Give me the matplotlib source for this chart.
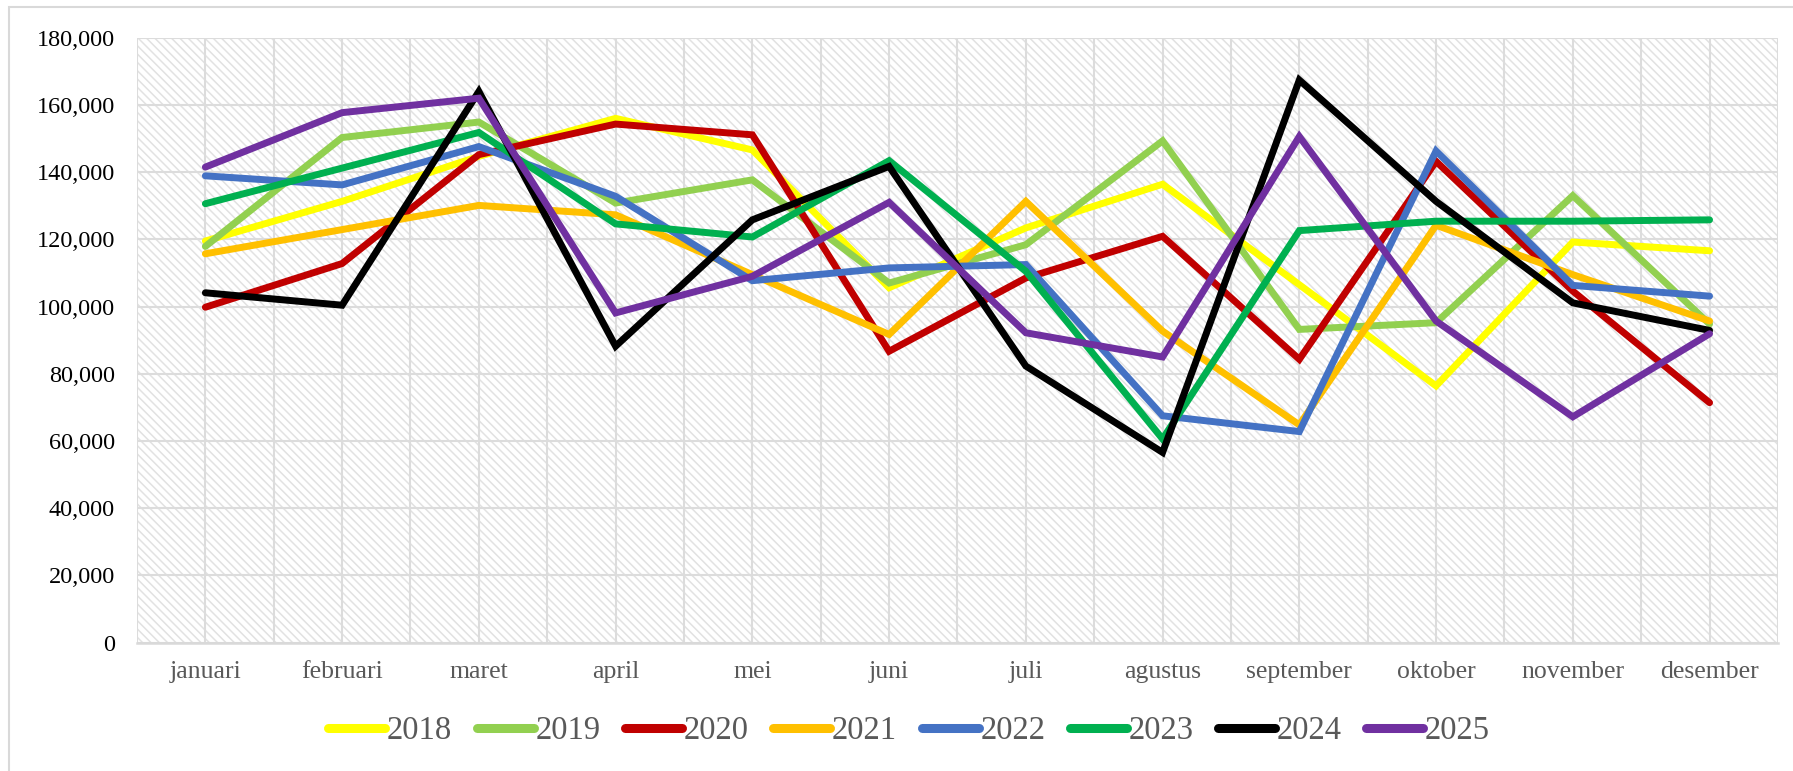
import matplotlib
matplotlib.use("Agg")
from matplotlib import pyplot as plt
from matplotlib.patches import Rectangle
from matplotlib.ticker import FuncFormatter

MONTHS = ["januari", "februari", "maret", "april", "mei", "juni",
          "juli", "agustus", "september", "oktober", "november", "desember"]
YEARS = ["2018", "2019", "2020", "2021", "2022", "2023", "2024", "2025"]
COLORS = ["#ffff00", "#92d050", "#c00000", "#ffc000",
          "#4472c4", "#00b050", "#000000", "#7030a0"]

Y2018 = [119500, 131300, 144700, 156000, 146600, 105600, 123400, 136400, 106500, 76400, 119200, 116600]
Y2019 = [117900, 150300, 154900, 130800, 137700, 107000, 118400, 149300, 93200, 95200, 133000, 94800]
Y2020 = [99800, 112800, 145200, 154300, 151100, 86700, 108500, 120900, 84300, 143200, 104600, 71400]
Y2021 = [115700, 122900, 130100, 127300, 109500, 91700, 131300, 92700, 64800, 124200, 109500, 95700]
Y2022 = [138900, 136200, 147600, 132800, 107700, 111500, 112500, 67500, 62800, 146300, 106300, 103100]
Y2023 = [130600, 141200, 151800, 124600, 120700, 143400, 110500, 60600, 122600, 125400, 125400, 125800]
Y2024 = [104100, 100400, 164000, 88200, 125800, 141700, 82300, 56600, 167400, 131300, 101100, 92900]
Y2025 = [141500, 157700, 162000, 98100, 109000, 131000, 92200, 85000, 150600, 95700, 67200, 91900]
SERIES = [Y2018, Y2019, Y2020, Y2021, Y2022, Y2023, Y2024, Y2025]

plt.rcParams["font.family"] = ["Liberation Serif", "DejaVu Serif"]
plt.rcParams["hatch.linewidth"] = 1.1

fig = plt.figure(figsize=(17.93, 7.71), dpi=100)
ax = fig.add_axes([0.0764, 0.1665, 0.9152, 0.7846])

# hatched plot background
bg = Rectangle((0, 0), 1, 1, transform=ax.transAxes, facecolor="white",
               edgecolor="#e2e2e2", hatch="\\\\\\\\", linewidth=0, zorder=0.1)
ax.add_patch(bg)
ax.patch.set_visible(False)

x = list(range(len(MONTHS)))
for name, vals, col in zip(YEARS, SERIES, COLORS):
    ax.plot(x, vals, color=col, lw=5, label=name,
            solid_capstyle="round", solid_joinstyle="miter", zorder=3)

ax.set_xlim(-0.5, 11.5)
ax.set_ylim(0, 180000)
ax.set_yticks(range(0, 180001, 20000))
ax.yaxis.set_major_formatter(FuncFormatter(lambda v, p: f"{int(v):,}"))
ax.set_xticks(x)
ax.set_xticklabels(MONTHS)
ax.set_xticks([i - 0.5 for i in range(13)], minor=True)

ax.set_axisbelow(True)
ax.grid(True, which="major", color="#dcdcdc", lw=1.5, zorder=0.5)
ax.grid(True, which="minor", axis="x", color="#dcdcdc", lw=1.5, zorder=0.5)

for s in ["top", "right", "left"]:
    ax.spines[s].set_visible(False)
ax.spines["bottom"].set_color("#d9d9d9")
ax.spines["bottom"].set_linewidth(1.8)

ax.tick_params(axis="both", which="both", length=0)
ax.tick_params(axis="y", labelsize=17.5, pad=16, labelcolor="black")
ax.tick_params(axis="x", labelsize=18.5, pad=13, labelcolor="#595959")

leg = fig.legend(loc="center", bbox_to_anchor=(0.507, 0.052), ncol=8,
                 frameon=False, fontsize=23.5, handlelength=1.75,
                 handletextpad=0.05, columnspacing=0.75, labelcolor="#595959")
for h in leg.get_lines():
    h.set_linewidth(6.5)
    h.set_solid_capstyle("round")

# outer chart border
fig.add_artist(Rectangle((9 / 1793, -0.1), 1.2, 1.1 - 7 / 771,
                         transform=fig.transFigure, fill=False,
                         edgecolor="#d9d9d9", lw=1.5))

fig.savefig("out.png", dpi=100)
